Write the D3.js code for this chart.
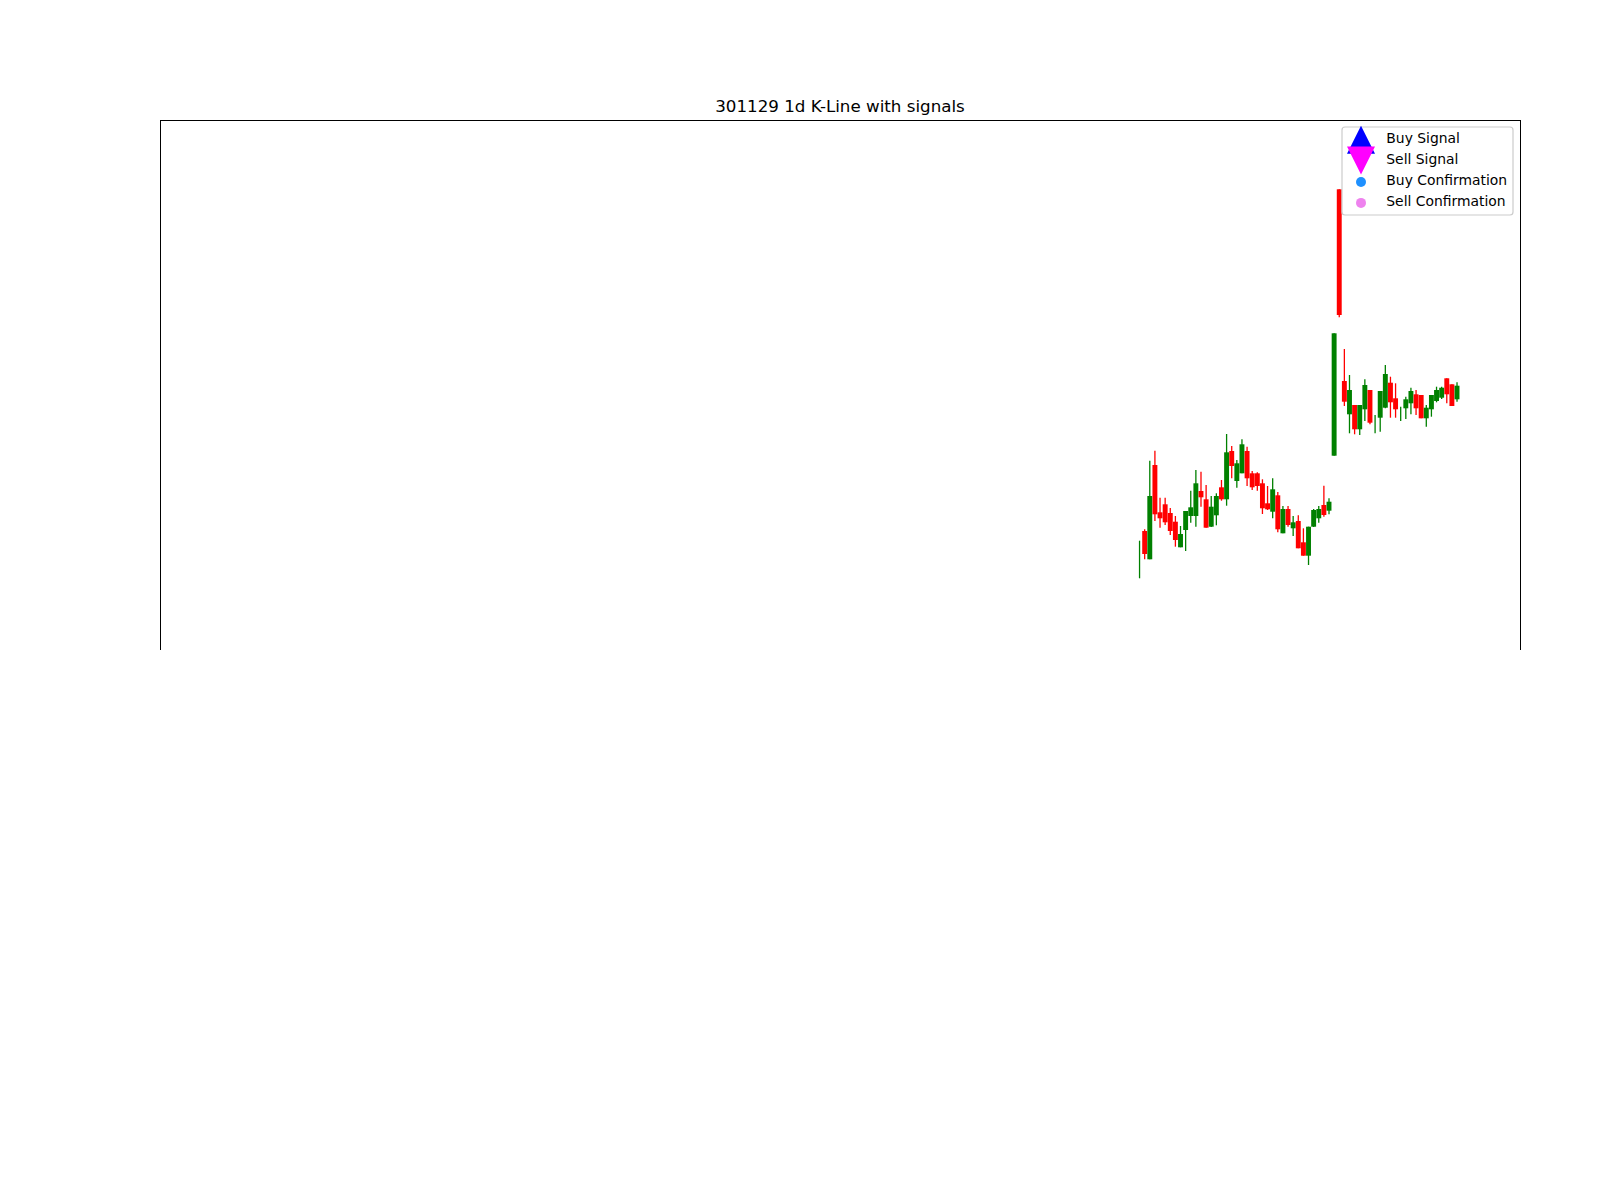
<!DOCTYPE html>
<html>
<head>
<meta charset="utf-8">
<script src="https://cdn.jsdelivr.net/npm/d3@7"></script>
<style>
  body { margin: 0; background: #fff; }
  svg { display: block; font-family: "DejaVu Sans", sans-serif; }
</style>
</head>
<body>
<svg id="chart" width="1600" height="1200"></svg>
<script>
// daily bars (index 0 = first bar)
const opens = [36.00, 38.90, 36.07, 45.50, 40.77, 41.57, 40.70, 39.83, 37.27, 39.00,
  40.40, 40.40, 42.90, 42.07, 39.33, 40.47, 43.27, 42.07, 46.90, 43.90,
  44.67, 46.90, 44.67, 44.67, 43.67, 41.67, 40.83, 42.47, 38.67, 41.10,
  39.17, 39.90, 37.77, 36.43, 39.33, 40.17, 41.50, 40.93, 46.43, 73.07,
  53.90, 50.57, 51.50, 49.07, 51.07, 53.00, 49.50, 50.23, 51.23, 53.73,
  52.17, 50.60, 51.17, 51.67, 52.57, 52.50, 50.17, 51.07, 51.90, 52.23,
  54.17, 53.57, 52.07];
const highs = [37.93, 39.07, 45.93, 46.93, 42.23, 42.23, 41.20, 40.40, 39.40, 40.90,
  42.93, 45.00, 44.83, 43.50, 42.40, 42.67, 44.00, 48.60, 47.40, 46.00,
  48.07, 47.33, 44.90, 44.77, 44.07, 43.40, 44.17, 42.80, 41.40, 41.40,
  40.40, 40.47, 39.17, 39.33, 41.10, 41.40, 43.43, 42.17, 58.67, 73.07,
  57.10, 54.50, 51.50, 51.50, 54.07, 53.00, 50.50, 52.90, 55.50, 54.33,
  53.67, 51.33, 52.33, 53.23, 53.00, 52.50, 51.50, 52.50, 53.33, 53.33,
  54.17, 53.57, 53.77];
const lows = [34.17, 36.07, 36.07, 39.90, 39.23, 39.50, 38.50, 37.33, 37.27, 36.90,
  39.73, 39.33, 41.33, 39.23, 39.30, 39.47, 41.93, 41.43, 44.17, 43.23,
  44.67, 43.40, 43.00, 42.93, 40.60, 41.00, 40.17, 38.77, 38.67, 39.33,
  38.40, 37.17, 36.43, 35.50, 39.30, 39.73, 40.33, 40.57, 46.43, 60.27,
  51.40, 48.67, 48.57, 48.50, 49.90, 49.57, 48.67, 48.83, 51.17, 50.23,
  50.23, 49.90, 50.10, 50.57, 50.50, 50.17, 49.33, 50.33, 51.77, 52.10,
  51.67, 51.40, 51.83];
const closes = [36.00, 36.60, 42.40, 40.57, 40.17, 39.77, 38.90, 38.00, 38.60, 40.90,
  41.27, 43.67, 42.27, 39.23, 41.33, 42.40, 42.07, 46.77, 45.40, 45.67,
  47.57, 44.17, 43.27, 43.40, 41.17, 41.07, 43.07, 39.07, 41.10, 39.50,
  39.77, 37.17, 36.43, 39.33, 41.00, 41.10, 40.50, 41.83, 58.67, 60.50,
  51.83, 53.00, 49.07, 51.50, 53.50, 49.73, 49.50, 52.90, 54.60, 51.77,
  51.07, 50.60, 52.07, 52.90, 51.17, 50.17, 51.23, 52.50, 53.00, 53.23,
  52.57, 51.40, 53.43];

const legendLabels = ["Buy Signal", "Sell Signal", "Buy Confirmation", "Sell Confirmation"];
const legendColors = ["#0000ff", "#ff00ff", "#1e90ff", "#ee82ee"];
const legendShapes = ["up", "down", "dot", "dot"];

const title = "301129 1d K-Line with signals";

const svg = d3.select("#chart");
const L = 160, R = 1520, T = 120, B = 650;

const x = d3.scaleLinear().domain([-191.3, 74.3]).range([L, R]);
const y = d3.scaleLinear().domain([27, 80]).range([B, T]);
const bodyW = x(0.96) - x(0);

const bars = opens.map((o, i) => ({ i, o, h: highs[i], l: lows[i], c: closes[i] }));
const col = d => d.c >= d.o ? "#008000" : "#ff0000";

const g = svg.append("g");
g.selectAll("line.wick").data(bars).join("line")
  .attr("class", "wick")
  .attr("x1", d => x(d.i)).attr("x2", d => x(d.i))
  .attr("y1", d => y(d.h)).attr("y2", d => y(d.l))
  .attr("stroke", col)
  .attr("stroke-width", 1.3);

g.selectAll("rect.body").data(bars).join("rect")
  .attr("class", "body")
  .attr("x", d => x(d.i) - bodyW / 2)
  .attr("width", bodyW)
  .attr("y", d => y(Math.max(d.o, d.c)))
  .attr("height", d => Math.abs(y(d.o) - y(d.c)))
  .attr("fill", col);

// axes frame (bottom part of the figure is blank)
const frame = "M" + (L + 0.5) + "," + B + "V" + (T + 0.5) + "H" + (R + 0.5) + "V" + B;
svg.append("path").attr("d", frame)
  .attr("fill", "none").attr("stroke", "#000").attr("stroke-width", 1.1)
  .attr("shape-rendering", "crispEdges");

svg.append("text")
  .attr("x", (L + R) / 2).attr("y", 111.7)
  .attr("text-anchor", "middle")
  .attr("font-size", "16.7px")
  .text(title);

// legend
const lg = svg.append("g");
lg.append("rect")
  .attr("x", 1342).attr("y", 127).attr("width", 171).attr("height", 88)
  .attr("rx", 3).attr("fill", "#fff").attr("fill-opacity", 0.8)
  .attr("stroke", "#cccccc").attr("stroke-width", 1.2);

const rowY = d3.scaleLinear().domain([0, 1]).range([143.3, 164.2]);
legendLabels.forEach((lab, k) => {
  const cy = rowY(k) - 3.6;
  const mx = 1361;
  if (legendShapes[k] === "up") {
    lg.append("path")
      .attr("d", `M${mx},${cy - 14}L${mx + 14},${cy + 14}L${mx - 14},${cy + 14}Z`)
      .attr("fill", legendColors[k]);
  } else if (legendShapes[k] === "down") {
    lg.append("path")
      .attr("d", `M${mx - 14},${cy - 14}L${mx + 14},${cy - 14}L${mx},${cy + 14}Z`)
      .attr("fill", legendColors[k]);
  } else {
    lg.append("circle").attr("cx", mx).attr("cy", cy + 0.5).attr("r", 5)
      .attr("fill", legendColors[k]);
  }
  lg.append("text")
    .attr("x", 1386.3).attr("y", rowY(k))
    .attr("font-size", "13.9px")
    .text(lab);
});
</script>
</body>
</html>
